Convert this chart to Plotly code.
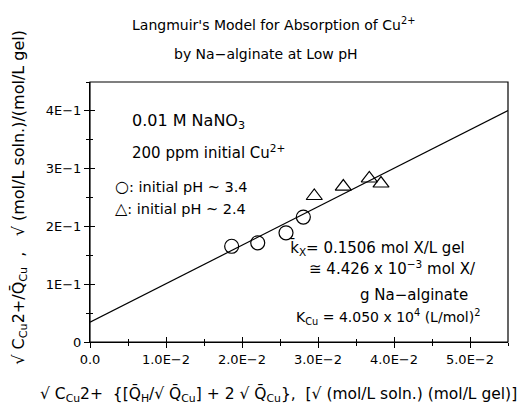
import plotly.graph_objects as go

# Data
ph34_x = [0.01864, 0.02207, 0.02579, 0.02807]
ph34_y = [0.1657, 0.1717, 0.1890, 0.2162]
ph24_x = [0.02951, 0.03333, 0.03675, 0.03829]
ph24_y = [0.2527, 0.2690, 0.2830, 0.2743]
fit_x = [0.0, 0.055]
fit_y = [0.0343, 0.4005]

x_tickvals = [0.0, 0.01, 0.02, 0.03, 0.04, 0.05]
x_ticktext = ["0.0", "1.0E\u22122", "2.0E\u22122", "3.0E\u22122", "4.0E\u22122", "5.0E\u22122"]
y_tickvals = [0.0, 0.1, 0.2, 0.3, 0.4]
y_ticktext = ["0", "1E\u22121", "2E\u22121", "3E\u22121", "4E\u22121"]

FONT = "DejaVu Sans"
BLACK = "black"

fig = go.Figure()
fig.add_trace(go.Scatter(x=fit_x, y=fit_y, mode="lines",
                         line=dict(color=BLACK, width=1.2), showlegend=False))
fig.add_trace(go.Scatter(x=ph34_x, y=ph34_y, mode="markers",
                         marker=dict(symbol="circle-open", size=14,
                                     line=dict(color=BLACK, width=1.2), color=BLACK),
                         showlegend=False))
fig.add_trace(go.Scatter(x=ph24_x, y=ph24_y, mode="markers",
                         marker=dict(symbol="triangle-up-open", size=14,
                                     line=dict(color=BLACK, width=1.2), color=BLACK),
                         showlegend=False))
fig.add_trace(go.Scatter(x=[None], y=[None], xaxis="x2", yaxis="y2", showlegend=False))

axis_common = dict(showgrid=False, zeroline=False, linecolor=BLACK, linewidth=1.2,
                   ticks="outside", ticklen=5, tickcolor=BLACK, tickwidth=1,
                   tickfont=dict(family=FONT, size=13, color=BLACK))

# page body has an 8px margin: figure is sized/offset to compensate
fig.update_layout(
    width=517, height=398,
    margin=dict(l=82, r=17, t=74, b=64),
    paper_bgcolor="white", plot_bgcolor="white",
    font=dict(family=FONT, color=BLACK),
    xaxis=dict(range=[0, 0.055], tickvals=x_tickvals, ticktext=x_ticktext,
               minor=dict(dtick=0.005, ticks="outside", ticklen=3, tickcolor=BLACK),
               **axis_common),
    yaxis=dict(range=[0, 0.45], tickvals=y_tickvals, ticktext=y_ticktext,
               minor=dict(dtick=0.05, ticks="outside", ticklen=3, tickcolor=BLACK),
               **axis_common),
    xaxis2=dict(overlaying="x", range=[0, 0.055], tickvals=x_tickvals,
                showticklabels=False, showgrid=False, zeroline=False, showline=False,
                ticks="inside", ticklen=5, tickcolor=BLACK,
                minor=dict(dtick=0.005, ticks="inside", ticklen=3, tickcolor=BLACK)),
    yaxis2=dict(overlaying="y", range=[0, 0.45], tickvals=y_tickvals,
                showticklabels=False, showgrid=False, zeroline=False, showline=False,
                ticks="inside", ticklen=5, tickcolor=BLACK,
                minor=dict(dtick=0.05, ticks="inside", ticklen=3, tickcolor=BLACK)),
)
fig.add_shape(type="rect", xref="paper", yref="paper", x0=0, x1=1, y0=0, y1=1,
              line=dict(color=BLACK, width=1.2), layer="above")

def ann(text, x, y, xref="paper", yref="paper", size=13, xanchor="center",
        yanchor="middle", angle=0):
    fig.add_annotation(text=text, x=x, y=y, xref=xref, yref=yref, showarrow=False,
                       xanchor=xanchor, yanchor=yanchor, textangle=angle,
                       font=dict(family=FONT, size=size, color=BLACK))

ann("Langmuir's Model for Absorption of Cu<sup>2+</sup>", 0.438, 1.223, size=14)
ann("by Na\u2212alginate at Low pH", 0.421, 1.108, size=14)

ann("\u221a C<sub>Cu</sub>2+/Q\u0304<sub>Cu</sub>  ,   \u221a (mol/L soln.)/(mol/L gel)",
    -0.168, 0.558, size=16, angle=-90)
ann("\u221a C<sub>Cu</sub>2+  {[Q\u0304<sub>H</sub>/\u221a Q\u0304<sub>Cu</sub>] + 2 \u221a Q\u0304<sub>Cu</sub>},  "
    "[\u221a (mol/L soln.) (mol/L gel)]", 0.452, -0.2, size=15.5)

ann("0.01 M NaNO<sub>3</sub>", 0.00526, 0.381, "x", "y", size=16, xanchor="left")
ann("200 ppm initial Cu<sup>2+</sup>", 0.00526, 0.3287, "x", "y", size=15, xanchor="left")
ann("<span style='font-size:16px'>\u25cb</span>: initial pH ~ 3.4", 0.00303, 0.2696, "x", "y",
    size=14.5, xanchor="left")
ann("<span style='font-size:16px'>\u25b3</span>: initial pH ~ 2.4", 0.00303, 0.2310, "x", "y",
    size=14.5, xanchor="left")

ann("k\u0304<sub>X</sub>= 0.1506 mol X/L gel", 0.0496, 0.1635, "x", "y", size=15, xanchor="right")
ann("\u2245 4.426 x 10<sup>\u22123</sup> mol X/", 0.0511, 0.1287, "x", "y", size=15, xanchor="right")
ann("g Na\u2212alginate", 0.0500, 0.0817, "x", "y", size=15, xanchor="right")
ann("K<sub>Cu</sub> = 4.050 x 10<sup>4</sup> (L/mol)<sup>2</sup>", 0.0516, 0.0435, "x", "y",
    size=14, xanchor="right")

fig.write_html("out.html")
